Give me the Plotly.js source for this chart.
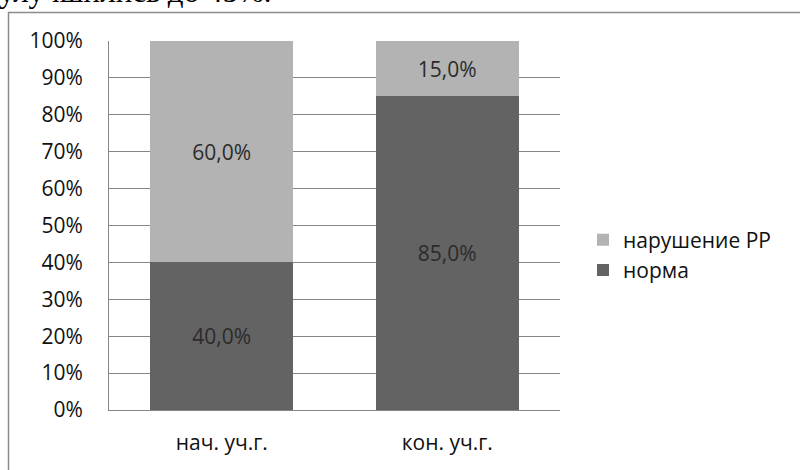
<!DOCTYPE html>
<html><head><meta charset="utf-8">
<script src="https://cdn.plot.ly/plotly-3.0.1.min.js"></script>
<style>html,body{margin:0;padding:0;background:#fff}#c{width:800px;height:470px}</style>
</head><body><div id="c"></div>
<script>
const categories = ['нач. уч.г.', 'кон. уч.г.'];
const normaValues = [40.0, 85.0];
const violationValues = [60.0, 15.0];
const seriesNames = ['норма', 'нарушение РР'];
const yTicks = [0,10,20,30,40,50,60,70,80,90,100];
const yTickText = ['0%','10%','20%','30%','40%','50%','60%','70%','80%','90%','100%'];

const FAM = 'Open Sans, Lato, sans-serif';
const font = {family: FAM, size: 21, color: '#111'};
const labelFont = {family: FAM, size: 21, color: '#2b2b2b'};

const traces = [
  {type:'bar', x:categories, y:normaValues, name:seriesNames[0],
   marker:{color:'#636363'}, texttemplate:'%{y:.1f}%', textposition:'inside',
   insidetextanchor:'middle', textfont:labelFont, constraintext:'none', hoverinfo:'skip'},
  {type:'bar', x:categories, y:violationValues, name:seriesNames[1],
   marker:{color:'#b3b3b3'}, texttemplate:'%{y:.1f}%', textposition:'inside',
   insidetextanchor:'middle', textfont:labelFont, constraintext:'none', hoverinfo:'skip'}
];

const L=109, T=41, W=451, H=369;
const px = x => (x-L)/W, py = y => 1-(y-T)/H;

const layout = {
  width:800, height:470,
  margin:{l:L, r:800-L-W, t:T, b:470-T-H},
  barmode:'stack', bargap:0.366,
  separators:', ',
  paper_bgcolor:'#fff', plot_bgcolor:'#fff',
  font:font,
  showlegend:true,
  legend:{x:px(583), y:py(255), yanchor:'middle', xanchor:'left', traceorder:'reversed',
          font:{family:FAM, size:21, color:'#111'}},
  xaxis:{type:'category', showgrid:false, showline:true, linecolor:'#868686', linewidth:1,
         ticks:'', tickfont:font, ticklabelstandoff:14},
  yaxis:{range:[0,100], tickmode:'array', tickvals:yTicks, ticktext:yTickText, showgrid:true,
         gridcolor:'#868686', gridwidth:1, showline:true, linecolor:'#868686', linewidth:1,
         zeroline:false, ticks:'', tickfont:font, ticklabelstandoff:21},
  shapes:[
    {type:'rect', xref:'paper', yref:'paper', x0:px(8.5), x1:px(900), y0:py(600), y1:py(12.5),
     line:{color:'#8c8c8c', width:1.5}, fillcolor:'rgba(0,0,0,0)', layer:'below'}
  ],
  annotations:[
    {xref:'paper', yref:'paper', x:px(-3), y:py(11), xanchor:'left', yanchor:'bottom',
     text:'улучшились до 45%.', showarrow:false,
     font:{family:'Liberation Serif, serif', size:31, color:'#000'}}
  ]
};

Plotly.newPlot('c', traces, layout, {displayModeBar:false, staticPlot:true});
</script></body></html>
